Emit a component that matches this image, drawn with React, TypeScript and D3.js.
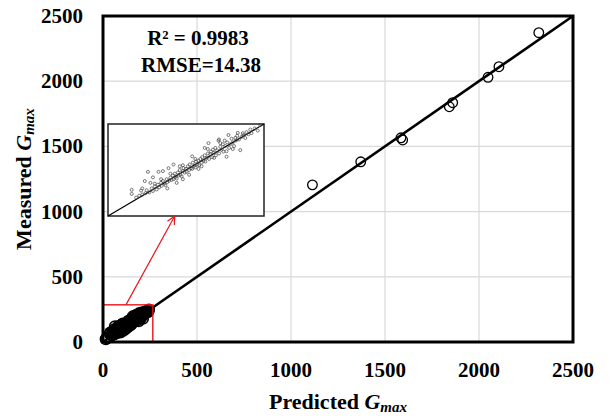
import React from "react";
import * as d3 from "d3";

const xTicks = [0, 500, 1000, 1500, 2000, 2500];
const yTicks = [0, 500, 1000, 1500, 2000, 2500];

const largePred = [1114, 1371, 1585, 1594, 1842, 1860, 2048, 2106, 2318];
const largeMeas = [1205, 1382, 1566, 1549, 1804, 1835, 2030, 2111, 2372];

const clusterPred = [38, 38, 53, 59, 64, 81, 97, 45, 50, 55, 60, 62, 66, 70, 72, 75, 78, 80, 82, 85, 86, 88, 90, 92, 94, 95, 98, 100, 102, 104, 105, 107, 108, 110, 112, 113, 115, 116, 118, 120, 121, 123, 125, 126, 128, 130, 131, 133, 135, 136, 138, 140, 141, 143, 145, 146, 148, 150, 151, 153, 155, 156, 158, 160, 161, 162, 164, 165, 167, 168, 170, 172, 173, 175, 177, 178, 180, 182, 184, 185, 187, 188, 190, 191, 193, 194, 196, 198, 200, 202, 204, 205, 207, 210, 212, 214, 216, 217, 220, 222, 225, 228, 230, 235, 240, 244, 110, 95, 130, 150, 170, 140, 120, 100, 85, 75, 115, 160, 180, 200, 55, 68, 190, 208, 20, 28, 15, 72, 88, 105, 135, 155, 178, 120, 145];
const clusterMeas = [71, 60, 69, 95, 120, 120, 130, 50, 55, 58, 62, 70, 64, 75, 68, 80, 72, 85, 78, 90, 82, 95, 88, 84, 100, 92, 96, 104, 98, 110, 100, 115, 106, 102, 118, 110, 125, 112, 108, 122, 130, 118, 128, 120, 135, 125, 140, 130, 128, 145, 136, 132, 148, 140, 150, 138, 155, 145, 160, 150, 165, 148, 158, 170, 198, 155, 168, 175, 160, 180, 172, 185, 165, 178, 205, 170, 188, 180, 195, 175, 205, 190, 161, 200, 220, 185, 195, 210, 200, 190, 212, 205, 218, 208, 179, 215, 225, 220, 212, 228, 222, 235, 225, 238, 232, 247, 90, 75, 112, 135, 158, 155, 138, 115, 100, 88, 135, 182, 198, 182, 75, 90, 176, 226, 30, 35, 22, 105, 122, 140, 162, 185, 208, 100, 128];

const r2Text = "R² = 0.9983";
const rmseText = "RMSE=14.38";

const FONT = "'Liberation Serif', 'Times New Roman', serif";

export default function App() {
  const x = d3.scaleLinear().domain([0, 2500]).range([103, 573]);
  const y = d3.scaleLinear().domain([0, 2500]).range([342, 16]);
  const ix = d3.scaleLinear().domain([0, 250]).range([108, 264]);
  const iy = d3.scaleLinear().domain([0, 250]).range([216, 124]);

  const rectX1 = 265;
  const rectY1 = 285;
  const arrowFrom = [x(122), y(rectY1)];
  const arrowTo = [ix(107), iy(0)];
  const ang = Math.atan2(arrowTo[1] - arrowFrom[1], arrowTo[0] - arrowFrom[0]);
  const ah = 9;
  const a1 = [arrowTo[0] - ah * Math.cos(ang - 0.45), arrowTo[1] - ah * Math.sin(ang - 0.45)];
  const a2 = [arrowTo[0] - ah * Math.cos(ang + 0.45), arrowTo[1] - ah * Math.sin(ang + 0.45)];

  const cluster = clusterPred.map((p, i) => ({ p, m: clusterMeas[i] }));
  const large = largePred.map((p, i) => ({ p, m: largeMeas[i] }));

  return (
    <svg width={614} height={418} style={{ position: "absolute", left: 0, top: 0, background: "#fff" }}>
      <rect x={0} y={0} width={614} height={418} fill="#fff" />
      {xTicks.slice(1, -1).map((t) => (
        <line key={"gx" + t} x1={x(t)} x2={x(t)} y1={y(0)} y2={y(2500)} stroke="#d9d9d9" strokeWidth={1.2} />
      ))}
      {yTicks.slice(1, -1).map((t) => (
        <line key={"gy" + t} x1={x(0)} x2={x(2500)} y1={y(t)} y2={y(t)} stroke="#d9d9d9" strokeWidth={1.2} />
      ))}
      <line x1={x(0)} y1={y(0)} x2={x(2500)} y2={y(2500)} stroke="#000" strokeWidth={2.6} />
      {cluster.map((d, i) => (
        <circle key={"c" + i} cx={x(d.p)} cy={y(d.m)} r={5.4} fill="none" stroke="#000" strokeWidth={1.6} />
      ))}
      {large.map((d, i) => (
        <circle key={"l" + i} cx={x(d.p)} cy={y(d.m)} r={4.8} fill="none" stroke="#000" strokeWidth={1.3} />
      ))}
      <rect x={x(0)} y={y(rectY1)} width={x(rectX1) - x(0)} height={y(0) - y(rectY1)} fill="none" stroke="#e8141b" strokeWidth={1.4} />
      <rect x={ix(0)} y={iy(250)} width={ix(250) - ix(0)} height={iy(0) - iy(250)} fill="#fff" stroke="#222" strokeWidth={1.5} />
      <line x1={ix(0)} y1={iy(0)} x2={ix(250)} y2={iy(250)} stroke="#000" strokeWidth={1.2} />
      {cluster.filter((d) => d.p >= 30).map((d, i) => (
        <circle key={"ic" + i} cx={ix(d.p)} cy={iy(d.m)} r={1.5} fill="none" stroke="#444" strokeWidth={0.7} />
      ))}
      <line x1={arrowFrom[0]} y1={arrowFrom[1]} x2={arrowTo[0]} y2={arrowTo[1]} stroke="#e8141b" strokeWidth={1.2} />
      <polyline points={`${a1[0]},${a1[1]} ${arrowTo[0]},${arrowTo[1]} ${a2[0]},${a2[1]}`} fill="none" stroke="#e8141b" strokeWidth={1.2} />
      <rect x={x(0)} y={y(2500)} width={x(2500) - x(0)} height={y(0) - y(2500)} fill="none" stroke="#000" strokeWidth={3} />
      {xTicks.map((t) => (
        <text key={"xt" + t} x={x(t)} y={377} textAnchor="middle" fontFamily={FONT} fontWeight="bold" fontSize={21}>
          {t}
        </text>
      ))}
      {yTicks.map((t) => (
        <text key={"yt" + t} x={83} y={y(t) + 7} textAnchor="end" fontFamily={FONT} fontWeight="bold" fontSize={21}>
          {t}
        </text>
      ))}
      <text x={338} y={409} textAnchor="middle" fontFamily={FONT} fontWeight="bold" fontSize={22}>
        Predicted <tspan fontStyle="italic">G</tspan>
        <tspan fontStyle="italic" fontSize={15} dy={3}>max</tspan>
      </text>
      <text transform={`translate(31,179) rotate(-90)`} textAnchor="middle" fontFamily={FONT} fontWeight="bold" fontSize={22}>
        Measured <tspan fontStyle="italic">G</tspan>
        <tspan fontStyle="italic" fontSize={15} dy={3}>max</tspan>
      </text>
      <text x={198} y={45} textAnchor="middle" fontFamily={FONT} fontWeight="bold" fontSize={21}>
        {r2Text}
      </text>
      <text x={201} y={72} textAnchor="middle" fontFamily={FONT} fontWeight="bold" fontSize={21}>
        {rmseText}
      </text>
    </svg>
  );
}
